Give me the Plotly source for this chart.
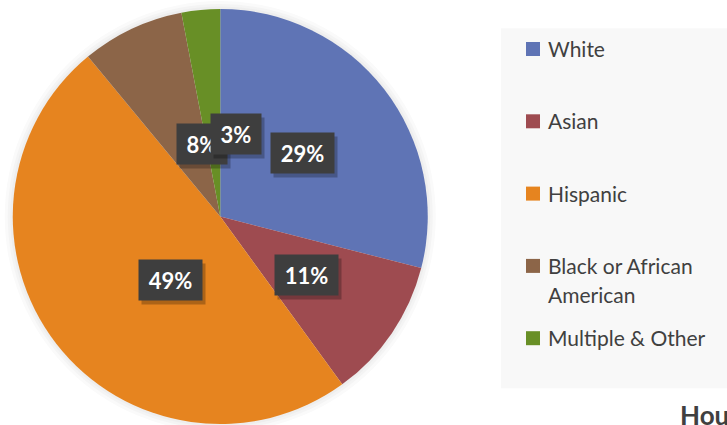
import math
import textwrap
import plotly.graph_objects as go

# ---- data ----
categories = ["White", "Asian", "Hispanic", "Black or African American", "Multiple & Other"]
shares = [29, 11, 49, 8, 3]
colors = ["#5f74b5", "#9e4b50", "#e6841f", "#8c6548", "#688f26"]
title_text = "Hou"

# ---- layout geometry (window pixels) ----
W, H = 727, 425
cx, cy, R = 220.25, 216.5, 207.5


def px(x):
    return x / W


def py(y):
    return 1 - y / H


fig = go.Figure(
    go.Pie(
        labels=categories,
        values=shares,
        sort=False,
        direction="clockwise",
        rotation=0,
        marker=dict(colors=colors, line=dict(width=0)),
        textinfo="none",
        hoverinfo="label+percent",
        showlegend=False,
        domain=dict(x=[px(cx - R), px(cx + R)], y=[py(cy + R), py(cy - R)]),
    )
)

shapes = []
# soft glow around the pie
for d, col in [(8, "#fafafa"), (5, "#f4f4f4"), (2.5, "#eeeeee")]:
    shapes.append(dict(type="circle", xref="paper", yref="paper", layer="below",
                       x0=px(cx - R - d), x1=px(cx + R + d), y0=py(cy + R + d), y1=py(cy - R - d),
                       fillcolor=col, line=dict(width=0)))
# legend panel
shapes.append(dict(type="rect", xref="paper", yref="paper", layer="below",
                   x0=px(501), x1=1.0, y0=py(388.3), y1=py(28.3),
                   fillcolor="#f8f8f8", line=dict(width=0)))

annotations = []
# data labels
total = sum(shares)
cum = 0
for cat, v in zip(categories, shares):
    mid = (cum + v / 2) / total * 2 * math.pi
    cum += v
    lx = cx + 0.5 * R * math.sin(mid)
    ly = cy - 0.5 * R * math.cos(mid)
    txt = f"{round(100 * v / total)}%"
    bw = 37 + 13 * (len(txt) - 1)
    # shadow
    annotations.append(dict(x=px(lx), y=py(ly), xref="paper", yref="paper", text="",
                            showarrow=False, width=bw, height=40, borderpad=0,
                            xshift=3, yshift=-4, bgcolor="rgba(0,0,0,0.25)"))
    annotations.append(dict(x=px(lx), y=py(ly), xref="paper", yref="paper",
                            text=f"<b>{txt}</b>", showarrow=False, width=bw, height=40,
                            borderpad=0, bgcolor="#3e3e3e",
                            font=dict(family="Lato", size=22, color="white")))

# legend (manual)
row0, row_gap, line_gap = 56, 72.3, 29.5
for i, (cat, col) in enumerate(zip(categories, colors)):
    base = row0 + i * row_gap
    shapes.append(dict(type="rect", xref="paper", yref="paper",
                       x0=px(526), x1=px(540), y0=py(base), y1=py(base - 14),
                       fillcolor=col, line=dict(width=0)))
    for j, line in enumerate(textwrap.wrap(cat, 16)):
        b = base + j * line_gap
        annotations.append(dict(x=px(546), y=py(b - 7.5), xref="paper", yref="paper",
                                xanchor="left", yanchor="middle", text=line, showarrow=False,
                                font=dict(family="Lato", size=21, color="#404040")))

annotations.append(dict(x=px(678), y=py(415), xref="paper", yref="paper",
                        xanchor="left", yanchor="middle", text=f"<b>{title_text}</b>",
                        showarrow=False, font=dict(family="Lato", size=26, color="#404040")))

fig.update_layout(
    width=W, height=H,
    margin=dict(l=0, r=0, t=0, b=0),
    paper_bgcolor="white",
    plot_bgcolor="white",
    shapes=shapes,
    annotations=annotations,
)

fig.write_html(
    "out.html",
    config={"displayModeBar": False},
    post_script="document.body.style.margin='0';document.body.style.overflow='hidden';",
)
